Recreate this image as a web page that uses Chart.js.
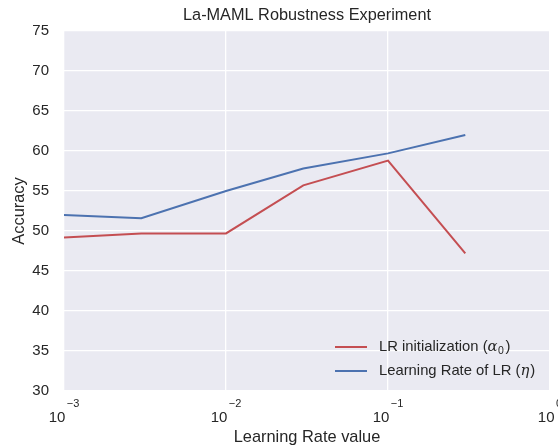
<!DOCTYPE html>
<html>
<head>
<meta charset="utf-8">
<script src="https://cdn.jsdelivr.net/npm/chart.js@4/dist/chart.umd.min.js"></script>
<style>
  html, body { margin: 0; padding: 0; background: #fff; }
  #wrap { width: 558px; height: 447px; }
</style>
</head>
<body>
<div id="wrap"><canvas id="myChart" width="558" height="447"></canvas></div>
<script>
// datos
const lrValues = [0.001, 0.003, 0.01, 0.03, 0.1, 0.3];
const lrInit = [49.2, 49.7, 49.7, 55.7, 58.8, 47.2];
const lrOfLr = [52.0, 51.6, 55.0, 57.8, 59.7, 62.0];
const xTicks = [0.001, 0.01, 0.1, 1];
const xTickExp = ["\u22123", "\u22122", "\u22121", "0"];
const yTicks = [30, 35, 40, 45, 50, 55, 60, 65, 70, 75];
const seriesNames = ["LR initialization", "Learning Rate of LR"];

const textColor = '#262626';
const red = '#C44E52';
const blue = '#4C72B0';
const fontFam = '"Liberation Sans", Arial, sans-serif';

// fondo gris del area de datos
const bgPlugin = {
  id: 'bg',
  beforeDraw(chart) {
    const a = chart.chartArea;
    const ctx = chart.ctx;
    ctx.save();
    ctx.fillStyle = '#EAEAF2';
    ctx.fillRect(a.left, a.top, a.right - a.left, a.bottom - a.top);
    ctx.restore();
  }
};

// etiquetas 10^n del eje x
const xLabels = {
  id: 'xLabels',
  afterDraw(chart) {
    const ctx = chart.ctx;
    const sx = chart.scales.x;
    ctx.save();
    ctx.fillStyle = textColor;
    ctx.textBaseline = 'alphabetic';
    ctx.textAlign = 'left';
    xTicks.forEach((v, i) => {
      const px = sx.getPixelForValue(v);
      ctx.font = '15px ' + fontFam;
      const wBase = ctx.measureText('10').width;
      ctx.font = '11px ' + fontFam;
      const wExp = ctx.measureText(xTickExp[i]).width;
      const start = px - (wBase + 1.5 + wExp) / 2;
      ctx.font = '15px ' + fontFam;
      ctx.fillText('10', start, 422);
      ctx.font = '11px ' + fontFam;
      ctx.fillText(xTickExp[i], start + wBase + 1.5, 407);
    });
    ctx.restore();
  }
};

// leyenda dentro del area, abajo a la derecha
const legendPlugin = {
  id: 'legendIn',
  afterDraw(chart) {
    const ctx = chart.ctx;
    const items = [
      { color: red, y: 347, name: seriesNames[0], sym: '\u03B1', sub: '0' },
      { color: blue, y: 371, name: seriesNames[1], sym: '\u03B7', sub: '' }
    ];
    ctx.save();
    ctx.textBaseline = 'middle';
    ctx.textAlign = 'left';
    ctx.fillStyle = textColor;
    items.forEach(it => {
      ctx.strokeStyle = it.color;
      ctx.lineWidth = 2;
      ctx.beginPath();
      ctx.moveTo(335, it.y);
      ctx.lineTo(367, it.y);
      ctx.stroke();
      let x = 379;
      ctx.font = '14.8px ' + fontFam;
      const t1 = it.name + ' (';
      ctx.fillText(t1, x, it.y);
      x += ctx.measureText(t1).width;
      ctx.font = 'italic 14.8px "DejaVu Serif", serif';
      ctx.fillText(it.sym, x, it.y);
      x += ctx.measureText(it.sym).width;
      if (it.sub) {
        ctx.font = '10.5px ' + fontFam;
        ctx.fillText(it.sub, x + 0.5, it.y + 4);
        x += ctx.measureText(it.sub).width + 1;
      }
      ctx.font = '14.8px ' + fontFam;
      ctx.fillText(')', x + 1, it.y);
    });
    ctx.restore();
  }
};

const data = {
  datasets: [
    {
      label: seriesNames[0],
      data: lrValues.map((x, i) => ({ x: x, y: lrInit[i] })),
      borderColor: red,
      backgroundColor: red,
      borderWidth: 2,
      pointRadius: 0,
      tension: 0
    },
    {
      label: seriesNames[1],
      data: lrValues.map((x, i) => ({ x: x, y: lrOfLr[i] })),
      borderColor: blue,
      backgroundColor: blue,
      borderWidth: 2,
      pointRadius: 0,
      tension: 0
    }
  ]
};

const config = {
  type: 'line',
  data: data,
  options: {
    responsive: false,
    animation: false,
    layout: { padding: { left: 0, right: 8, top: 0, bottom: 0 } },
    plugins: {
      legend: { display: false },
      tooltip: { enabled: false },
      title: {
        display: true,
        fullSize: false,
        text: 'La-MAML Robustness Experiment',
        color: textColor,
        font: { family: fontFam, size: 16.3, weight: 'normal', lineHeight: 1.2 },
        padding: { top: 5.7, bottom: 5.7 }
      }
    },
    scales: {
      x: {
        type: 'logarithmic',
        min: 0.001,
        max: 1,
        afterBuildTicks: s => { s.ticks = xTicks.map(v => ({ value: v })); },
        afterFit: s => { s.height = 56; },
        grid: { color: '#ffffff', lineWidth: 1.3, drawTicks: false },
        border: { display: false },
        ticks: { display: false },
        title: {
          display: true,
          text: 'Learning Rate value',
          color: textColor,
          font: { family: fontFam, size: 16.4, lineHeight: 1.2 },
          padding: { top: 0, bottom: 0 }
        }
      },
      y: {
        min: 30,
        max: 75,
        afterBuildTicks: s => { s.ticks = yTicks.map(v => ({ value: v })); },
        afterFit: s => { s.width = 64; },
        grid: { color: '#ffffff', lineWidth: 1.3, drawTicks: false },
        border: { display: false },
        ticks: {
          color: textColor,
          padding: 15,
          font: { family: fontFam, size: 15 }
        },
        title: {
          display: true,
          text: 'Accuracy',
          color: textColor,
          font: { family: fontFam, size: 16.4, lineHeight: 1.2 },
          padding: { top: 10, bottom: 0 }
        }
      }
    }
  },
  plugins: [bgPlugin, xLabels, legendPlugin]
};

var myChart = new Chart(document.getElementById('myChart'), config);
</script>
</body>
</html>
